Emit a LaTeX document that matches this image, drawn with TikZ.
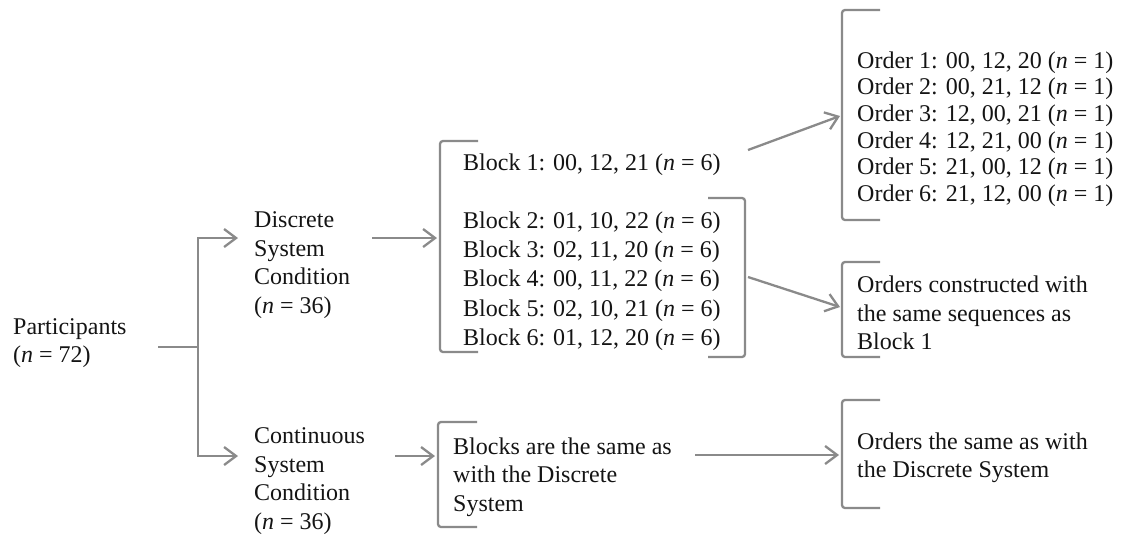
\documentclass[tikz,border=0pt]{standalone}
\usepackage{fontspec}
\setmainfont{Liberation Serif}
\usetikzlibrary{arrows.meta}
\definecolor{lc}{HTML}{8A8A8A}
\definecolor{tc}{HTML}{141414}
\tikzset{
  txt/.style={anchor=west, inner sep=0pt, align=left, text=tc, font=\fontsize{24}{28.5}\selectfont},
  ordtxt/.style={txt, font=\fontsize{24}{26.6}\selectfont},
  blktxt/.style={txt, font=\fontsize{24}{29.2}\selectfont},
  ln/.style={draw=lc, line width=2.3pt},
  arr/.style={ln, -{Straight Barb[length=12pt,width=18pt,line width=2.3pt]}},
  brk/.style={ln, rounded corners=3pt},
}
\begin{document}
\begin{tikzpicture}[x=1pt, y=-1pt]
\useasboundingbox (0,0) rectangle (1124,536);
% text nodes
\node[txt] (part) at (13,343) {Participants\\(\textit{n} = 72)};
\node[txt] (disc) at (254,265) {Discrete\\System\\Condition\\(\textit{n} = 36)};
\node[txt] (cont) at (254,481) {Continuous\\System\\Condition\\(\textit{n} = 36)};
\node[blktxt] (blocks) at (463,252) {Block 1: 00, 12, 21 (\textit{n} = 6)\\[29.2pt]Block 2: 01, 10, 22 (\textit{n} = 6)\\Block 3: 02, 11, 20 (\textit{n} = 6)\\Block 4: 00, 11, 22 (\textit{n} = 6)\\Block 5: 02, 10, 21 (\textit{n} = 6)\\Block 6: 01, 12, 20 (\textit{n} = 6)};
\node[ordtxt] (orders) at (857,129) {Order 1: 00, 12, 20 (\textit{n} = 1)\\Order 2: 00, 21, 12 (\textit{n} = 1)\\Order 3: 12, 00, 21 (\textit{n} = 1)\\Order 4: 12, 21, 00 (\textit{n} = 1)\\Order 5: 21, 00, 12 (\textit{n} = 1)\\Order 6: 21, 12, 00 (\textit{n} = 1)};
\node[txt] (ocon) at (857,313) {Orders constructed with\\the same sequences as\\Block 1};
\node[txt] (osame) at (857,458) {Orders the same as with\\the Discrete System};
\node[txt] (bsame) at (453,477) {Blocks are the same as\\with the Discrete\\System};
% brackets
\draw[brk] (478,141) -- (440,141) -- (440,352) -- (478,352);
\draw[brk] (708,198) -- (745,198) -- (745,357) -- (708,357);
\draw[brk] (880,10) -- (842,10) -- (842,220) -- (880,220);
\draw[brk] (880,262) -- (842,262) -- (842,357) -- (880,357);
\draw[brk] (477,422) -- (438,422) -- (438,527) -- (477,527);
\draw[brk] (880,400) -- (842,400) -- (842,508) -- (880,508);
% connector coordinates
\coordinate (pR) at (158,347);
\coordinate (fk) at (198,347);
\coordinate (dIn) at (238,238);
\coordinate (cIn) at (238,456);
\coordinate (dOut) at (372,238);
\coordinate (bkA) at (437,238);
\coordinate (cOut) at (395,456);
\coordinate (bkE) at (435,456);
\coordinate (b1Out) at (748,150);
\coordinate (bkC) at (840,116);
\coordinate (bkB) at (748,277);
\coordinate (bkD) at (840,307);
\coordinate (bsOut) at (695,455);
\coordinate (bkF) at (839,455);
% connectors
\draw[ln] (pR) -- (fk);
\draw[arr] (fk) |- (dIn);
\draw[arr] (fk) |- (cIn);
\draw[arr] (dOut) -- (bkA);
\draw[arr] (cOut) -- (bkE);
\draw[arr] (b1Out) -- (bkC);
\draw[arr] (bkB) -- (bkD);
\draw[arr] (bsOut) -- (bkF);
\end{tikzpicture}
\end{document}
